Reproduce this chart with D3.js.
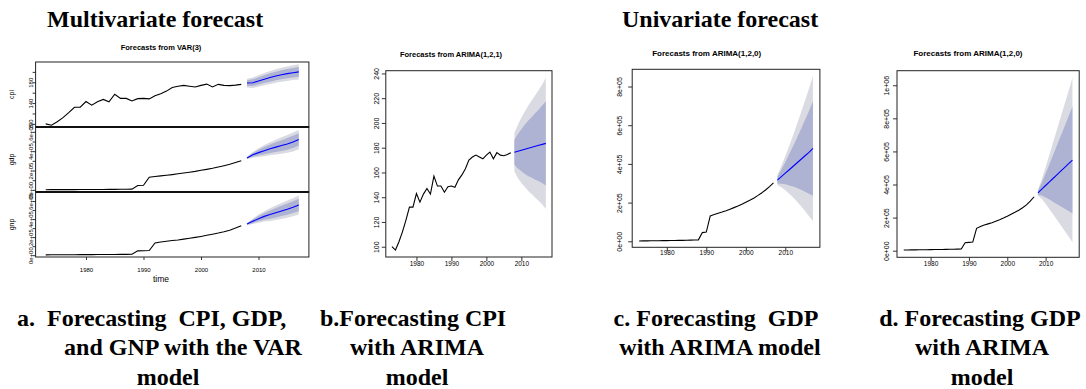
<!DOCTYPE html>
<html>
<head>
<meta charset="utf-8">
<script src="https://cdn.jsdelivr.net/npm/d3@7"></script>
<style>
  html, body { margin: 0; padding: 0; background: #fff; }
  svg { display: block; }
  .cap { font-family: "Liberation Serif", "Times New Roman", serif; font-weight: bold; font-size: 24px; fill: #000; white-space: pre; }
  .rt { font-family: "Liberation Sans", Arial, sans-serif; fill: #000; }
</style>
</head>
<body>
<svg id="chart" width="1086" height="389"></svg>
<script>
// observed years and forecast horizon
const histYears = d3.range(1973, 2008);
const fcYears = d3.range(2008, 2018);
const xTicks = [1980, 1990, 2000, 2010];

// observed series
const cpi = [100, 97.3, 104, 112, 121.5, 132, 132, 143, 136, 142.5, 147, 142.5, 157, 149, 149, 144, 148.5, 149, 148, 154,
  158, 163, 170, 172.5, 174, 172.5, 171, 174, 176.5, 171, 176, 174, 173.5, 174.5, 176];
const gdp = [1800, 2100, 2300, 2600, 2800, 3000, 3300, 3600, 3900, 4200, 4600, 5000, 5500, 6000, 6600, 7500, 45000, 48000,
  131000, 138000, 145000, 151000, 158000, 166000, 174000, 182000, 191000, 202000, 212000, 223000, 236000, 250000, 265000, 283000, 302000];
const gnp = [4000, 4300, 4600, 5000, 5300, 5600, 6000, 6300, 6700, 7000, 7400, 8000, 8500, 9000, 9500, 10000, 48000, 50000,
  52000, 135000, 146000, 155000, 162000, 169000, 178000, 187000, 197000, 208000, 220000, 232000, 245000, 260000, 277000, 300000, 326000];

// VAR(3) forecasts
const varCpiMean = [178.5, 179.2, 182.5, 186.0, 189.2, 192.0, 194.5, 196.6, 198.4, 200.0];
const varCpiLo80 = [173.0, 172.8, 175.5, 178.4, 181.2, 183.7, 185.9, 187.7, 189.3, 190.7];
const varCpiHi80 = [184.0, 185.6, 189.5, 193.6, 197.2, 200.3, 203.1, 205.5, 207.5, 209.3];
const varCpiLo95 = [170.0, 169.2, 171.5, 174.2, 176.7, 179.0, 181.0, 182.7, 184.2, 185.5];
const varCpiHi95 = [187.0, 189.2, 193.5, 197.8, 201.7, 205.0, 208.0, 210.5, 212.6, 214.5];

const varGdpMean = [330000, 362000, 385000, 405000, 425000, 442000, 458000, 475000, 496000, 520000];
const varGdpLo80 = [322000, 342000, 356000, 368000, 381000, 392000, 403000, 415000, 433000, 455000];
const varGdpHi80 = [338000, 382000, 414000, 442000, 469000, 492000, 513000, 535000, 559000, 585000];
const varGdpLo95 = [318000, 332000, 340000, 347000, 357000, 365000, 373000, 383000, 398000, 420000];
const varGdpHi95 = [342000, 392000, 430000, 463000, 493000, 519000, 543000, 567000, 594000, 620000];

const varGnpMean = [345000, 375000, 405000, 430000, 450000, 470000, 490000, 510000, 532000, 556000];
const varGnpLo80 = [337000, 355000, 376000, 392000, 405000, 418000, 433000, 448000, 467000, 488000];
const varGnpHi80 = [353000, 395000, 434000, 468000, 495000, 522000, 547000, 572000, 597000, 624000];
const varGnpLo95 = [333000, 345000, 360000, 372000, 380000, 390000, 402000, 415000, 432000, 451000];
const varGnpHi95 = [357000, 405000, 450000, 488000, 520000, 550000, 578000, 605000, 632000, 661000];

// ARIMA(1,2,1) on CPI
const arCpiMean = [176.3, 177.1, 177.9, 178.7, 179.5, 180.3, 181.1, 181.9, 182.7, 183.5];
const arCpiLo80 = [166.3, 163.1, 160.9, 158.7, 157.0, 155.8, 154.1, 152.9, 151.2, 149.5];
const arCpiHi80 = [186.3, 191.1, 194.9, 198.7, 202.0, 204.8, 208.1, 210.9, 214.2, 217.5];
const arCpiLo95 = [160.8, 155.6, 151.4, 148.2, 145.0, 142.3, 139.6, 136.9, 134.2, 130.5];
const arCpiHi95 = [191.8, 198.6, 204.4, 209.2, 214.0, 218.3, 222.6, 226.9, 231.2, 236.5];

// ARIMA(1,2,0) on GDP
const arGdpMean = [316000, 334000, 352000, 370000, 388000, 406000, 424000, 442000, 460000, 480000];
const arGdpLo80 = [299000, 298000, 295000, 289000, 283000, 275000, 266000, 256000, 246000, 236000];
const arGdpHi80 = [333000, 370000, 409000, 451000, 493000, 537000, 582000, 628000, 674000, 724000];
const arGdpLo95 = [290000, 279000, 264000, 246000, 226000, 204000, 181000, 156000, 130000, 105000];
const arGdpHi95 = [342000, 389000, 440000, 494000, 550000, 608000, 667000, 728000, 790000, 855000];

// ARIMA(1,2,0) on GNP
const arGnpMean = [350000, 372000, 394000, 416000, 438000, 460000, 482000, 504000, 526000, 548000];
const arGnpLo80 = [338000, 333000, 322000, 309000, 295000, 281000, 267000, 254000, 240000, 225000];
const arGnpHi80 = [362000, 411000, 466000, 523000, 581000, 639000, 697000, 754000, 812000, 871000];
const arGnpLo95 = [332000, 312000, 284000, 251000, 218000, 185000, 152000, 119000, 86000, 51000];
const arGnpHi95 = [368000, 432000, 504000, 581000, 658000, 735000, 812000, 889000, 966000, 1045000];

// y tick values and labels
const cpiVarTicks = [100, 120, 140, 160, 180, 200];
const cpiVarLabels = ['100', '', '140', '', '180', ''];
const sciVarTicks = [0, 100000, 200000, 300000, 400000, 500000, 600000];
const sciVarLabels = ['0e+00', '', '2e+05', '', '4e+05', '', '6e+05'];
const cpiTicks = [100, 120, 140, 160, 180, 200, 220, 240];
const cpiLabels = ['100', '120', '140', '160', '180', '200', '220', '240'];
const gdpTicks = [0, 200000, 400000, 600000, 800000];
const gdpLabels = ['0e+00', '2e+05', '4e+05', '6e+05', '8e+05'];
const gnpTicks = [0, 200000, 400000, 600000, 800000, 1000000];
const gnpLabels = ['0e+00', '2e+05', '4e+05', '6e+05', '8e+05', '1e+06'];

const band95 = '#dadbe2';
const band80 = '#aeb3d3';
const xDomain = [1971.24, 2018.76];

const svg = d3.select('#chart');

function drawPanel(p) {
  const g = svg.append('g');
  const x = d3.scaleLinear().domain(xDomain).range([p.x0, p.x1]);
  const y = d3.scaleLinear().domain(p.yDomain).range([p.y1, p.y0]);

  const area = (lo, hi) => d3.area()
    .x((d, i) => x(fcYears[i]))
    .y0((d, i) => y(lo[i]))
    .y1((d, i) => y(hi[i]))(fcYears);

  g.append('path').attr('d', area(p.fc.lo95, p.fc.hi95)).attr('fill', band95);
  g.append('path').attr('d', area(p.fc.lo80, p.fc.hi80)).attr('fill', band80);

  const line = d3.line().x(d => x(d[0])).y(d => y(d[1]));
  g.append('path')
    .attr('d', line(histYears.map((yr, i) => [yr, p.hist[i]])))
    .attr('fill', 'none').attr('stroke', '#000').attr('stroke-width', 1.1);
  g.append('path')
    .attr('d', line(fcYears.map((yr, i) => [yr, p.fc.mean[i]])))
    .attr('fill', 'none').attr('stroke', '#0000ff').attr('stroke-width', 1.1);

  // y axis
  const ya = g.append('g')
    .attr('transform', `translate(${p.x0},0)`)
    .call(d3.axisLeft(y).tickValues(p.yTicks).tickFormat((d, i) => p.yLabels[i]).tickSize(p.tick).tickSizeOuter(0));
  ya.select('.domain').remove();
  ya.selectAll('line').attr('stroke', '#000').attr('stroke-width', 0.8);
  ya.selectAll('text')
    .attr('class', 'rt')
    .attr('transform', 'rotate(-90)')
    .attr('x', 0).attr('y', -p.yLabOff).attr('dy', 0)
    .attr('text-anchor', 'middle')
    .style('font-size', p.yFont + 'px');

  if (p.showX) {
    const xa = g.append('g')
      .attr('transform', `translate(0,${p.y1})`)
      .call(d3.axisBottom(x).tickValues(xTicks).tickFormat(d3.format('d')).tickSize(p.tick).tickSizeOuter(0));
    xa.select('.domain').remove();
    xa.selectAll('line').attr('stroke', '#000').attr('stroke-width', 0.8);
    xa.selectAll('text')
      .attr('class', 'rt')
      .attr('y', p.xLabOff).attr('dy', 0)
      .style('font-size', p.xFont + 'px');
  }

  g.append('rect')
    .attr('x', p.x0).attr('y', p.y0)
    .attr('width', p.x1 - p.x0).attr('height', p.y1 - p.y0)
    .attr('fill', 'none').attr('stroke', '#222').attr('stroke-width', p.boxW || 1);
  return g;
}

function text(str, xPos, yPos, size, opts = {}) {
  const t = svg.append('text')
    .attr('x', xPos).attr('y', yPos)
    .attr('class', opts.cls || 'rt')
    .attr('text-anchor', opts.anchor || 'middle')
    .text(str);
  if (size) t.style('font-size', size + 'px');
  if (opts.bold) t.style('font-weight', 'bold');
  if (opts.rotate) t.attr('transform', `rotate(-90,${xPos},${yPos})`);
  return t;
}

// a. VAR panel, three stacked series
const varX0 = 35.6, varX1 = 308.9;
const varRows = [
  { y0: 62, y1: 127, yDomain: [94, 219], hist: cpi, ticks: cpiVarTicks, labels: cpiVarLabels,
    fc: { mean: varCpiMean, lo80: varCpiLo80, hi80: varCpiHi80, lo95: varCpiLo95, hi95: varCpiHi95 }, name: 'cpi' },
  { y0: 127, y1: 192, yDomain: [-22000, 650000], hist: gdp, ticks: sciVarTicks, labels: sciVarLabels,
    fc: { mean: varGdpMean, lo80: varGdpLo80, hi80: varGdpHi80, lo95: varGdpLo95, hi95: varGdpHi95 }, name: 'gdp' },
  { y0: 192, y1: 257, yDomain: [-20000, 700000], hist: gnp, ticks: sciVarTicks, labels: sciVarLabels,
    fc: { mean: varGnpMean, lo80: varGnpLo80, hi80: varGnpHi80, lo95: varGnpLo95, hi95: varGnpHi95 }, name: 'gnp' }
];
varRows.forEach((r, i) => {
  drawPanel({
    x0: varX0, x1: varX1, y0: r.y0, y1: r.y1, yDomain: r.yDomain, yTicks: r.ticks, yLabels: r.labels,
    hist: r.hist, fc: r.fc, tick: 3, yLabOff: 2.5, yFont: 6, showX: i === 2, xLabOff: 14.5, xFont: 6,
    boxW: 1
  });
  text(r.name, 13.5, (r.y0 + r.y1) / 2, 7, { rotate: true });
});
// thicker separators between VAR rows
[127, 192].forEach(yy => {
  svg.append('line').attr('x1', varX0).attr('x2', varX1).attr('y1', yy).attr('y2', yy)
    .attr('stroke', '#111').attr('stroke-width', 1.8);
});
text('Forecasts from VAR(3)', 161, 50, 7.5, { bold: true });
text('time', 161, 282, 8.5);

// b. ARIMA(1,2,1) CPI
drawPanel({
  x0: 385.8, x1: 552, y0: 70.7, y1: 257, yDomain: [91.7, 242.2], yTicks: cpiTicks, yLabels: cpiLabels,
  hist: cpi, fc: { mean: arCpiMean, lo80: arCpiLo80, hi80: arCpiHi80, lo95: arCpiLo95, hi95: arCpiHi95 },
  tick: 4, yLabOff: 6.7, yFont: 7, showX: true, xLabOff: 8.7, xFont: 6.5
});
text('Forecasts from ARIMA(1,2,1)', 451, 56.5, 7.5, { bold: true });

// c. ARIMA(1,2,0) GDP
drawPanel({
  x0: 632.2, x1: 819.9, y0: 69.3, y1: 247.3, yDomain: [-31000, 889000], yTicks: gdpTicks, yLabels: gdpLabels,
  hist: gdp, fc: { mean: arGdpMean, lo80: arGdpLo80, hi80: arGdpHi80, lo95: arGdpLo95, hi95: arGdpHi95 },
  tick: 4, yLabOff: 10, yFont: 7, showX: true, xLabOff: 7.7, xFont: 6.5
});
text('Forecasts from ARIMA(1,2,0)', 706.7, 55.5, 8, { bold: true });

// d. ARIMA(1,2,0) GNP
drawPanel({
  x0: 897, x1: 1079.2, y0: 70.7, y1: 257.3, yDomain: [-40000, 1088000], yTicks: gnpTicks, yLabels: gnpLabels,
  hist: gnp, fc: { mean: arGnpMean, lo80: arGnpLo80, hi80: arGnpHi80, lo95: arGnpLo95, hi95: arGnpHi95 },
  tick: 4, yLabOff: 8.5, yFont: 7, showX: true, xLabOff: 8.4, xFont: 6.5
});
text('Forecasts from ARIMA(1,2,0)', 968, 56, 8, { bold: true });

// headings and captions
const cap = { cls: 'cap' };
text('Multivariate forecast', 47, 27, null, { cls: 'cap', anchor: 'start' });
text('Univariate forecast', 622, 27, null, { cls: 'cap', anchor: 'start' });

text('a.', 17, 326, null, { cls: 'cap', anchor: 'start' });
text('Forecasting  CPI, GDP,', 47, 326, null, { cls: 'cap', anchor: 'start' });
text('and GNP with the VAR', 183, 355, null, cap);
text('model', 168, 385, null, cap);

text('b.Forecasting CPI', 320, 326, null, { cls: 'cap', anchor: 'start' });
text('with ARIMA', 417, 355, null, cap);
text('model', 417, 385, null, cap);

text('c. Forecasting  GDP', 716, 326, null, cap);
text('with ARIMA model', 720, 355, null, cap);

text('d. Forecasting GDP', 980, 326, null, cap);
text('with ARIMA', 982, 355, null, cap);
text('model', 982, 385, null, cap);
</script>
</body>
</html>
